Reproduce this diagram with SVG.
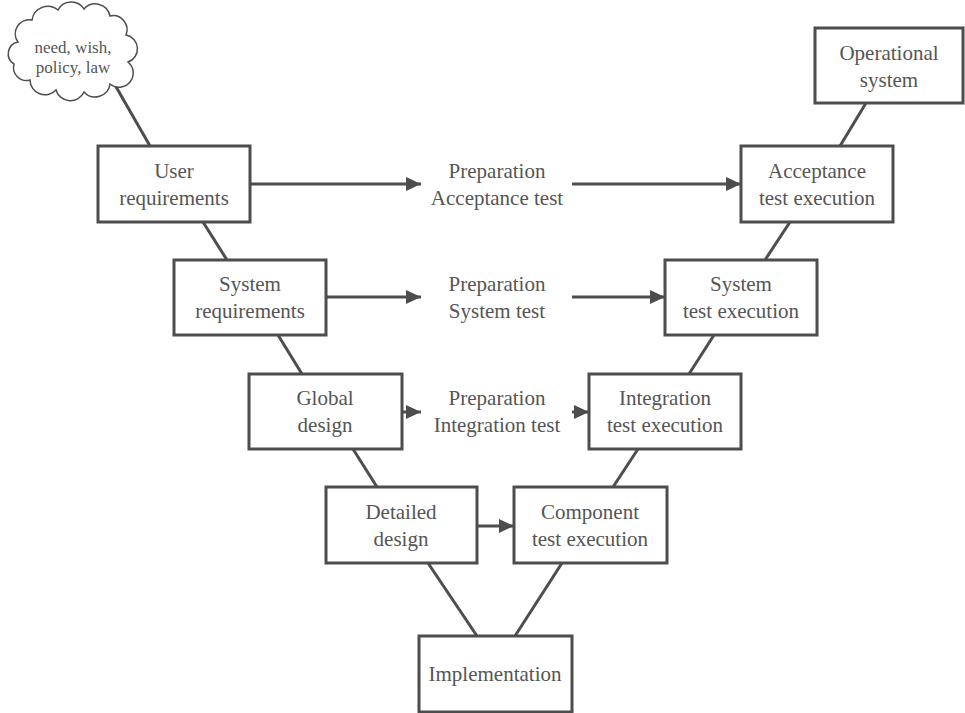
<svg xmlns="http://www.w3.org/2000/svg" width="965" height="713" viewBox="0 0 965 713">
<style>
.box{fill:#fff;stroke:#4d4d4d;stroke-width:3}
.lbl{font-family:'Liberation Serif','Times New Roman',serif;font-size:21px;fill:#555;text-anchor:middle}
.cld{font-family:'Liberation Serif','Times New Roman',serif;font-size:17px;fill:#555;text-anchor:middle}
.ln{stroke:#4d4d4d;stroke-width:3;fill:none}
</style>
<defs>
<marker id="ah" markerUnits="userSpaceOnUse" markerWidth="16" markerHeight="14" refX="15" refY="7" orient="auto">
<path d="M0,0 L15,7 L0,14 z" fill="#4d4d4d"/>
</marker>
</defs>
<rect width="965" height="713" fill="#fff"/>
<g id="connectors">
<line class="ln" x1="115" y1="85" x2="150" y2="146"/>
<line class="ln" x1="203" y1="222" x2="227" y2="260"/>
<line class="ln" x1="278" y1="335" x2="302" y2="374"/>
<line class="ln" x1="353" y1="449" x2="377" y2="487"/>
<line class="ln" x1="428" y1="563" x2="477" y2="636"/>
<line class="ln" x1="562" y1="563" x2="515" y2="636"/>
<line class="ln" x1="638" y1="449" x2="613" y2="487"/>
<line class="ln" x1="714" y1="335" x2="689" y2="374"/>
<line class="ln" x1="790" y1="222" x2="765" y2="260"/>
<line class="ln" x1="866" y1="103" x2="840" y2="146"/>
<line class="ln" x1="250" y1="184" x2="421" y2="184" marker-end="url(#ah)"/>
<line class="ln" x1="572" y1="184" x2="741" y2="184" marker-end="url(#ah)"/>
<line class="ln" x1="326" y1="297" x2="421" y2="297" marker-end="url(#ah)"/>
<line class="ln" x1="572" y1="297" x2="665" y2="297" marker-end="url(#ah)"/>
<line class="ln" x1="402" y1="412" x2="421" y2="412" marker-end="url(#ah)"/>
<line class="ln" x1="572" y1="412" x2="589" y2="412" marker-end="url(#ah)"/>
<line class="ln" x1="477" y1="526" x2="514" y2="526" marker-end="url(#ah)"/>
</g>
<g id="cloud">
<path d="M18,42 A14 14 0 0 1 32,20 A16 16 0 0 1 58,10 A15 15 0 0 1 84,9 A15 15 0 0 1 110,16 A14 14 0 0 1 126,35 A14 14 0 0 1 128,62 A14 14 0 0 1 110,84 A15 15 0 0 1 84,92 A15 15 0 0 1 56,90 A15 15 0 0 1 30,80 A13 13 0 0 1 14,64 A12 12 0 0 1 18,42 Z" fill="#fff" stroke="#4d4d4d" stroke-width="1.5"/>
<text class="cld" x="73" y="53">need, wish,</text>
<text class="cld" x="73" y="73">policy, law</text>
</g>
<g id="user-req"><rect class="box" x="98" y="146" width="152" height="76"/><text class="lbl" x="174" y="178">User</text><text class="lbl" x="174" y="205">requirements</text></g>
<g id="prep-acc"><text class="lbl" x="497" y="178">Preparation</text><text class="lbl" x="497" y="205">Acceptance test</text></g>
<g id="acc-exec"><rect class="box" x="741" y="146" width="152" height="76"/><text class="lbl" x="817" y="178">Acceptance</text><text class="lbl" x="817" y="205">test execution</text></g>
<g id="op-sys"><rect class="box" x="815" y="28" width="148" height="75"/><text class="lbl" x="889" y="60">Operational</text><text class="lbl" x="889" y="87">system</text></g>
<g id="sys-req"><rect class="box" x="174" y="260" width="152" height="75"/><text class="lbl" x="250" y="291">System</text><text class="lbl" x="250" y="318">requirements</text></g>
<g id="prep-sys"><text class="lbl" x="497" y="291">Preparation</text><text class="lbl" x="497" y="318">System test</text></g>
<g id="sys-exec"><rect class="box" x="665" y="260" width="152" height="75"/><text class="lbl" x="741" y="291">System</text><text class="lbl" x="741" y="318">test execution</text></g>
<g id="global"><rect class="box" x="249" y="374" width="153" height="75"/><text class="lbl" x="325" y="405">Global</text><text class="lbl" x="325" y="432">design</text></g>
<g id="prep-int"><text class="lbl" x="497" y="405">Preparation</text><text class="lbl" x="497" y="432">Integration test</text></g>
<g id="int-exec"><rect class="box" x="589" y="374" width="152" height="75"/><text class="lbl" x="665" y="405">Integration</text><text class="lbl" x="665" y="432">test execution</text></g>
<g id="detailed"><rect class="box" x="326" y="487" width="151" height="76"/><text class="lbl" x="401" y="519">Detailed</text><text class="lbl" x="401" y="546">design</text></g>
<g id="comp-exec"><rect class="box" x="514" y="487" width="153" height="76"/><text class="lbl" x="590" y="519">Component</text><text class="lbl" x="590" y="546">test execution</text></g>
<g id="impl"><rect class="box" x="419" y="636" width="153" height="76"/><text class="lbl" x="495" y="681">Implementation</text></g>
</svg>
